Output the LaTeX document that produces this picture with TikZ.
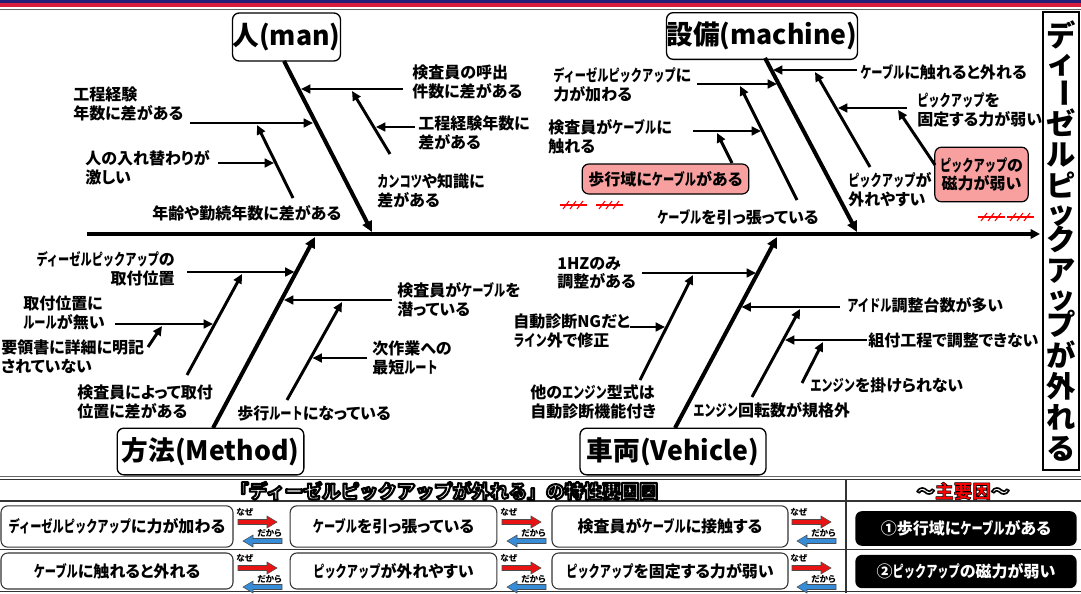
\documentclass[tikz,border=0pt]{standalone}
\usepackage{fontspec}
\usepackage{graphicx}
\setmainfont{Noto Sans CJK JP}[RawFeature={+palt}]
\newfontfamily\fullw{Noto Sans CJK JP}
\newfontfamily\hk{Noto Sans CJK JP}[FakeStretch=0.7]
\newcommand\kt[1]{{\hk #1}}
\newcommand\otext[2]{\special{pdf:literal direct 2 Tr #1 w 1 j 0 0 0 RG}#2\special{pdf:literal direct 0 Tr}}
\newcommand\smk[1]{\makebox[1em][r]{#1}}
\usetikzlibrary{arrows.meta,calc}
\definecolor{navy}{RGB}{35,30,120}
\definecolor{stripred}{RGB}{215,30,60}
\definecolor{pinkbox}{RGB}{248,160,160}
\definecolor{nazered}{RGB}{232,20,20}
\definecolor{nazeblue}{RGB}{55,140,215}
\newcommand\lblf{\fontsize{12}{14}\selectfont\bfseries}
\newcommand\catf{\fontsize{20}{24}\selectfont\bfseries}
\newcommand\tblf{\fontsize{12}{14}\selectfont\bfseries}
\newcommand\vtitlef{\fullw\fontsize{22}{23.25}\selectfont\bfseries}
\newcommand\tinyf{\fontsize{6.5}{7}\selectfont\bfseries}
\newcommand\headf{\fullw\fontsize{14}{16}\selectfont\bfseries}
\newcommand\hatchmark[2]{%
  \draw[red, line width=0.8pt] (#1,#2) -- ++(27,0);
  \foreach \hx in {6,13,20}{\draw[red, line width=0.8pt] ($(#1,#2)+(\hx,0)+(-3,4)$) -- ++(6,-8);}
}
\newcommand\nazeicon[3]{%
  \begin{scope}[shift={(#1,#2)}]
    \node[font=\tinyf, anchor=west, inner sep=0pt] (#3n) at (0,9) {なぜ};
    \filldraw[fill=nazered, draw=black!70, line width=0.4pt] (2,16.5) -- (31,16.5) -- (31,13) -- (41,19) -- (31,25) -- (31,21.5) -- (2,21.5) -- cycle;
    \node[font=\tinyf, anchor=west, inner sep=0pt] (#3d) at (21,30) {だから};
    \filldraw[fill=nazeblue, draw=black!70, line width=0.4pt] (46,35.5) -- (17,35.5) -- (17,32) -- (7,38) -- (17,44) -- (17,40.5) -- (46,40.5) -- cycle;
  \end{scope}
}
\begin{document}
\begin{tikzpicture}[x=0.75pt,y=-0.75pt,
  lbl/.style={font=\lblf, align=left, inner sep=0pt, anchor=west},
  lblr/.style={font=\lblf, align=right, inner sep=0pt, anchor=east},
  cat/.style={draw, line width=1pt, rounded corners=5pt, fill=white, font=\catf, inner sep=0pt},
  bone/.style={line width=3pt, -{Triangle[length=8pt,width=7.5pt]}},
  sub/.style={line width=2.2pt, -{Triangle[length=7pt,width=6.5pt]}},
  causebox/.style={draw, line width=0.9pt, rounded corners=5pt, fill=pinkbox, font=\lblf, align=center, inner sep=0pt},
  tblbox/.style={draw=black!80, line width=0.8pt, rounded corners=5pt, fill=white, font=\tblf, inner sep=0pt},
  keybox/.style={fill=black, rounded corners=5pt, font=\tblf, text=white, inner sep=0pt},
]
\useasboundingbox (0,0) rectangle (1081,593);
% top stripe
\fill[navy] (0,0) rectangle (1081,3);
\fill[stripred] (0,3) rectangle (1081,7);
\draw[black!60, line width=1.2pt] (0,9.5) -- (1081,9.5);

% right title box
\node[draw, line width=1.6pt, minimum width=27pt, minimum height=343.5pt, inner sep=0pt] (tbox) at (1061,241) {};
\node[font=\vtitlef, align=center, inner sep=0pt] (vt) at (1061,241) {デ\\[-3pt]\smk{ィ}\\[-3pt]\rotatebox[origin=c]{-90}{ー}\\ゼ\\ル\\ピ\\[-3pt]\smk{ッ}\\[-3pt]ク\\ア\\[-3pt]\smk{ッ}\\[-3pt]プ\\が\\外\\れ\\る};

% spine
\coordinate (spS) at (87,234);
\coordinate (spE) at (1040,234);
\draw[line width=3pt, -{Triangle[length=7pt,width=7pt]}] (spS) -- (spE);

% category boxes
\node[cat, minimum width=77pt, minimum height=36pt] (man) at (286.5,37) {人(man)};
\node[cat, minimum width=140pt, minimum height=35pt] (mach) at (762,36) {設備(machine)};
\node[cat, minimum width=140pt, minimum height=35pt] (meth) at (210.5,451.5) {方法(Method)};
\node[cat, minimum width=139.5pt, minimum height=35pt] (veh) at (673,451.5) {車両(Vehicle)};

% main bones
\coordinate (manS) at (284,61);   \coordinate (manE) at (372,232);
\coordinate (machS) at (765,58);  \coordinate (machE) at (857,232);
\coordinate (methS) at (213,428); \coordinate (methE) at (315,237);
\coordinate (vehS) at (675,428);  \coordinate (vehE) at (777,237);
\draw[bone] (manS) -- (manE);
\draw[bone] (machS) -- (machE);
\draw[bone] (methS) -- (methE);
\draw[bone] (vehS) -- (vehE);

% ---- man
\coordinate (a1s) at (403,89);  \coordinate (a1e) at (301,89);
\coordinate (a2s) at (390,154); \coordinate (a2e) at (352,91);
\coordinate (a3s) at (415,127); \coordinate (a3e) at (376,127);
\coordinate (a4s) at (190,123); \coordinate (a4e) at (313,123);
\coordinate (a5s) at (293,198); \coordinate (a5e) at (257,125);
\coordinate (a6s) at (218,163); \coordinate (a6e) at (274,163);
\foreach \k in {a1,a2,a3,a4,a5,a6}{\draw[sub] (\k s) -- (\k e);}
\node[lbl] (t1) at (73,104) {工程経験\\年数に差がある};
\node[lbl] (t2) at (85,168) {人の入れ替わりが\\激しい};
\node[lbl] (t3) at (152,213) {年齢や勤続年数に差がある};
\node[lbl] (t4) at (412,82) {検査員の呼出\\件数に差がある};
\node[lbl] (t5) at (418,133) {工程経験年数に\\差がある};
\node[lbl] (t6) at (377,191) {\kt{カンコツ}や知識に\\差がある};

% ---- machine
\coordinate (b1s) at (697,84);  \coordinate (b1e) at (777,84);
\coordinate (b2s) at (797,200); \coordinate (b2e) at (740,86);
\coordinate (b3s) at (693,131); \coordinate (b3e) at (761,131);
\coordinate (b5s) at (857,70);  \coordinate (b5e) at (773,70);
\coordinate (b6s) at (870,167); \coordinate (b6e) at (815,72);
\coordinate (b7s) at (907,108); \coordinate (b7e) at (838,108);
\foreach \k in {b1,b2,b3,b5,b6,b7}{\draw[sub] (\k s) -- (\k e);}
\node[causebox, minimum width=125pt, minimum height=22.5pt] (p1) at (665.5,179) {歩行域に\kt{ケーブル}がある};
\node[causebox, minimum width=70pt, minimum height=41pt] (p2) at (981.5,174.5) {\kt{ピックアップ}の\\磁力が弱い};
\coordinate (b4s) at (732,163); \coordinate (b4e) at (717,133);
\coordinate (b8s) at (935,165); \coordinate (b8e) at (898,110);
\draw[sub] (b4s) -- (b4e);
\draw[sub] (b8s) -- (b8e);
\node[lbl] (u1) at (553,85) {\kt{ディーゼルピックアップ}に\\力が加わる};
\node[lbl] (u2) at (548,137) {検査員が\kt{ケーブル}に\\触れる};
\node[lbl] (u3) at (657,217) {\kt{ケーブル}を引っ張っている};
\node[lbl] (u4) at (860,72) {\kt{ケーブル}に触れると外れる};
\node[lbl] (u5) at (917,110) {\kt{ピックアップ}を\\固定する力が弱い};
\node[lbl] (u6) at (848,190) {\kt{ピックアップ}が\\外れやすい};
\hatchmark{560}{205}
\hatchmark{596}{205}
\hatchmark{978}{217}
\hatchmark{1007}{217}

% ---- method
\coordinate (c1s) at (187,272); \coordinate (c1e) at (294.5,272);
\coordinate (c2s) at (187,375); \coordinate (c2e) at (242,274);
\coordinate (c3s) at (115,324); \coordinate (c3e) at (213,324);
\coordinate (c4s) at (148,347); \coordinate (c4e) at (162,326);
\coordinate (c5s) at (392,300); \coordinate (c5e) at (284,300);
\coordinate (c6s) at (287,400); \coordinate (c6e) at (342,302);
\coordinate (c7s) at (367,358); \coordinate (c7e) at (312.5,358);
\foreach \k in {c1,c2,c3,c4,c5,c6,c7}{\draw[sub] (\k s) -- (\k e);}
\node[lblr] (m1) at (175,269) {\kt{ディーゼルピックアップ}の\\取付位置};
\node[lbl] (m2) at (23,313) {取付位置に\\\kt{ルール}が無い};
\node[lbl] (m3) at (1,357) {要領書に詳細に明記\\されていない};
\node[lbl] (m4) at (77,402) {検査員によって取付\\位置に差がある};
\node[lbl] (m5) at (397,300) {検査員が\kt{ケーブル}を\\潜っている};
\node[lbl] (m6) at (372,358) {次作業への\\最短\kt{ルート}};
\node[lbl] (m7) at (237,413) {歩行\kt{ルート}になっている};

% ---- vehicle
\coordinate (d1s) at (642,273); \coordinate (d1e) at (756,273);
\coordinate (d2s) at (640,380); \coordinate (d2e) at (693,275);
\coordinate (d3s) at (630,327); \coordinate (d3e) at (665,327);
\coordinate (d4s) at (840,307); \coordinate (d4e) at (741.5,307);
\coordinate (d5s) at (752,397); \coordinate (d5e) at (800,309);
\coordinate (d6s) at (867,340); \coordinate (d6e) at (785,340);
\coordinate (d7s) at (802,383); \coordinate (d7e) at (823,342);
\foreach \k in {d1,d2,d3,d4,d5,d6,d7}{\draw[sub] (\k s) -- (\k e);}
\node[lbl] (w1) at (557,273) {1HZのみ\\調整がある};
\node[lbl] (w2) at (513,331) {自動診断NGだと\\\kt{ライン}外で修正};
\node[lbl] (w3) at (530,402) {他の\kt{エンジン}型式は\\自動診断機能付き};
\node[lbl] (w4) at (847,305) {\kt{アイドル}調整台数が多い};
\node[lbl] (w5) at (868,340) {組付工程で調整できない};
\node[lbl] (w6) at (810,385) {\kt{エンジン}を掛けられない};
\node[lbl] (w7) at (693,410) {\kt{エンジン}回転数が規格外};

% ---- bottom table
\draw[black!60, line width=1.2pt] (0,476.5) -- (1081,476.5);
\draw[black!80, line width=0.6pt] (0,479.5) -- (1081,479.5);
\draw[black!80, line width=0.8pt] (0,501) -- (1081,501);
\draw[black!80, line width=0.8pt] (0,549.5) -- (1081,549.5);
\draw[black!80, line width=0.8pt] (0,591.5) -- (1081,591.5);
\draw[black!80, line width=0.8pt] (846,480) -- (846,593);
\node[font=\headf, text=white, inner sep=0pt] (ttl) at (444,491) {\otext{1.6}{「ディーゼルピックアップが外れる」の特性要因図}};
\node[font=\headf, inner sep=0pt] (key) at (963,491) {\textcolor{white}{\otext{1.2}{〜}}\textcolor{red}{\otext{0.4}{主要因}}\textcolor{white}{\otext{1.2}{〜}}};

\node[tblbox, minimum width=174pt, minimum height=31pt] (r1a) at (117,526.5) {\kt{ディーゼルピックアップ}に力が加わる};
\node[tblbox, minimum width=155pt, minimum height=31pt] (r1b) at (393.5,526.5) {\kt{ケーブル}を引っ張っている};
\node[tblbox, minimum width=177pt, minimum height=31pt] (r1c) at (670,526.5) {検査員が\kt{ケーブル}に接触する};
\node[tblbox, minimum width=174pt, minimum height=27pt] (r2a) at (117,571) {\kt{ケーブル}に触れると外れる};
\node[tblbox, minimum width=155pt, minimum height=27pt] (r2b) at (393.5,571) {\kt{ピックアップ}が外れやすい};
\node[tblbox, minimum width=177pt, minimum height=27pt] (r2c) at (670,571) {\kt{ピックアップ}を固定する力が弱い};
\node[keybox, minimum width=166pt, minimum height=26pt] (k1) at (966,528.5) {①歩行域に\kt{ケーブル}がある};
\node[keybox, minimum width=166pt, minimum height=25pt] (k2) at (966,571.5) {②\kt{ピックアップ}の磁力が弱い};
\nazeicon{236}{503}{na}
\nazeicon{500}{503}{nb}
\nazeicon{790}{503}{nc}
\nazeicon{236}{549}{nd}
\nazeicon{500}{549}{ne}
\nazeicon{790}{549}{nf}
\end{tikzpicture}
\end{document}
